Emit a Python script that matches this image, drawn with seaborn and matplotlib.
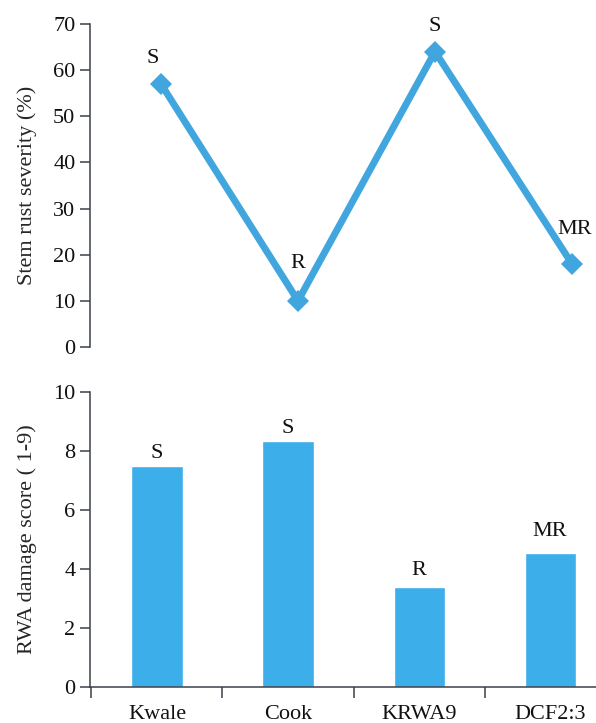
import matplotlib
matplotlib.use('Agg')
import matplotlib.pyplot as plt
import seaborn as sns
from matplotlib.ticker import FixedLocator

# Data
varieties = ['Kwale', 'Cook', 'KRWA9', 'DCF2:3']
stem_rust = [57, 10, 64, 18]
stem_rust_class = ['S', 'R', 'S', 'MR']
rwa_score = [7.5, 8.35, 3.4, 4.55]
rwa_class = ['S', 'S', 'R', 'MR']

line_color = '#42a6de'
bar_color = '#3caeea'
spine_color = '#3a404c'
fs = 16

sns.set_theme(style='ticks')
plt.rcParams['font.family'] = ['Liberation Serif', 'DejaVu Serif']
plt.rcParams['font.size'] = fs

fig = plt.figure(figsize=(5.96, 7.23), dpi=100)
ax1 = fig.add_axes([0.151, 0.520, 0.849, 0.447])
ax2 = fig.add_axes([0.151, 0.0498, 0.849, 0.408])

# Top: stem rust severity
sns.lineplot(x=varieties, y=stem_rust, ax=ax1, color=line_color, linewidth=5,
             marker='D', markersize=11, markeredgewidth=0, sort=False)
top_offsets = [(-6, 18), (0, 27), (0, 18), (2, 25)]
for i, (v, lab) in enumerate(zip(stem_rust, stem_rust_class)):
    ax1.annotate(lab, (i, v), xytext=top_offsets[i], textcoords='offset points',
                 ha='center', va='center', fontsize=fs, color='#111111')
ax1.set_xlim(-0.518, 3.175)
ax1.set_ylim(0, 70)
ax1.set_yticks(range(0, 71, 10))
ax1.set_xticks([])
ax1.set_xlabel('')
ax1.set_ylabel('Stem rust severity (%)', fontsize=fs)
ax1.yaxis.set_label_coords(-0.105, 0.5)
for s in ['top', 'right', 'bottom']:
    ax1.spines[s].set_visible(False)

# Bottom: RWA damage score
sns.barplot(x=varieties, y=rwa_score, ax=ax2, color=bar_color, saturation=1,
            width=0.39)
bot_offsets = [9, 9, 12, 15]
for i, (v, lab) in enumerate(zip(rwa_score, rwa_class)):
    ax2.annotate(lab, (i, v), xytext=(0, bot_offsets[i]), textcoords='offset points',
                 ha='center', va='center', fontsize=fs, color='#111111')
ax2.set_xlim(-0.511, 3.35)
ax2.set_ylim(0, 10)
ax2.set_yticks(range(0, 11, 2))
ax2.tick_params(axis='x', which='major', length=0, pad=13)
ax2.xaxis.set_minor_locator(FixedLocator([-0.5, 0.5, 1.5, 2.5]))
ax2.tick_params(axis='x', which='minor', length=8, width=1.1, color=spine_color)
ax2.set_xlabel('')
ax2.set_ylabel('RWA damage score ( 1-9)', fontsize=fs)
ax2.yaxis.set_label_coords(-0.105, 0.5)
for s in ['top', 'right']:
    ax2.spines[s].set_visible(False)

for ax in (ax1, ax2):
    for s in ['left', 'bottom']:
        ax.spines[s].set_color(spine_color)
        ax.spines[s].set_linewidth(1.1)
    ax.tick_params(axis='y', length=7, width=1.1, color=spine_color, labelsize=fs,
                   labelcolor='#111111')
    ax.tick_params(axis='x', labelsize=fs, labelcolor='#111111')

fig.savefig('out.png', dpi=100)
